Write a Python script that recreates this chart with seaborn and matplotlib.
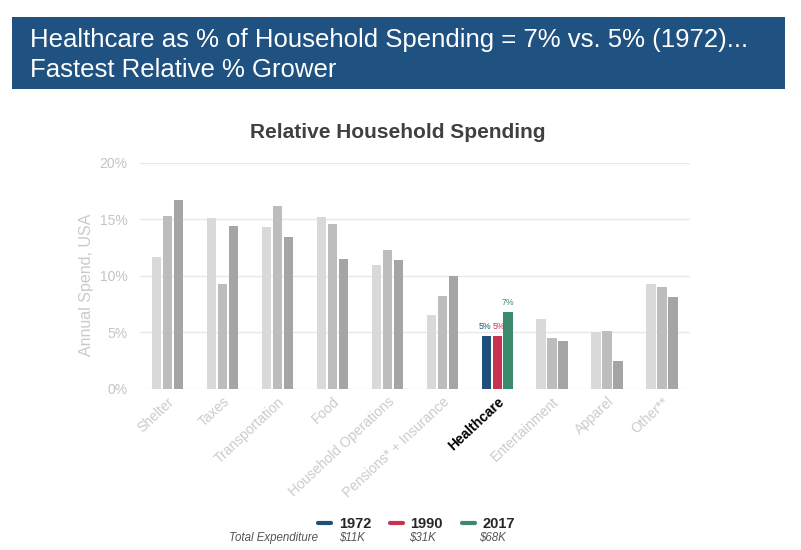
import pandas as pd
import seaborn as sns
import matplotlib.pyplot as plt
from matplotlib.patches import Rectangle
from matplotlib.lines import Line2D

categories = ["Shelter", "Taxes", "Transportation", "Food", "Household Operations",
              "Pensions* + Insurance", "Healthcare", "Entertainment", "Apparel", "Other**"]
years = ["1972", "1990", "2017"]
spend_1972 = [11.7, 15.1, 14.3, 15.2, 11.0, 6.5, 4.7, 6.2, 5.0, 9.3]
spend_1990 = [15.3, 9.3, 16.2, 14.6, 12.3, 8.2, 4.7, 4.5, 5.1, 9.0]
spend_2017 = [16.7, 14.4, 13.4, 11.5, 11.4, 10.0, 6.8, 4.2, 2.5, 8.1]
totals = ["$11K", "$31K", "$68K"]
focus = "Healthcare"

hc_colors = ["#1d4f7a", "#c8324f", "#3b8a6c"]
grays = ["#d9d9d9", "#bdbdbd", "#a5a5a5"]

df = pd.DataFrame({
    "category": categories * 3,
    "year": [y for y in years for _ in categories],
    "value": spend_1972 + spend_1990 + spend_2017,
})

sns.set_style("white")
plt.rcParams["font.family"] = ["Liberation Sans", "DejaVu Sans"]

fig = plt.figure(figsize=(8.01, 5.5), dpi=100)
ax = fig.add_axes([0.175, 0.293, 0.686, 0.411])

sns.barplot(data=df, x="category", y="value", hue="year", order=categories,
            hue_order=years, width=0.6, gap=0.12, palette=grays, legend=False, ax=ax)

# recolor: grays everywhere, colors for healthcare
nudge = [-0.035, 0.035, 0.0]  # keep the two 5% labels from touching
for i, cont in enumerate(ax.containers):
    for j, bar in enumerate(cont):
        if categories[j] == focus:
            bar.set_facecolor(hc_colors[i])
            ax.text(bar.get_x() + bar.get_width() / 2 + nudge[i], bar.get_height() + 0.45,
                    f"{bar.get_height():.0f}%", ha="center", va="bottom",
                    fontsize=6.3, color=hc_colors[i])
        else:
            bar.set_facecolor(grays[i])
        bar.set_edgecolor("none")

ax.set_ylim(0, 20)
ax.set_xlim(-0.5, len(categories) - 0.5)
ax.set_yticks([0, 5, 10, 15, 20])
ax.set_yticklabels([f"{t}%" for t in [0, 5, 10, 15, 20]], color="#c4c4c4", fontsize=10)
ax.yaxis.grid(True, color="#e8e8e8", linewidth=1)
ax.set_axisbelow(True)
for s in ax.spines.values():
    s.set_visible(False)
ax.tick_params(axis="y", length=0, pad=9)
ax.set_xlabel("")
ax.set_ylabel("Annual Spend, USA", color="#cacaca", fontsize=11.5)
ax.yaxis.set_label_coords(-0.084, 0.46)

ax.set_xticks(range(len(categories)))
ax.set_xticklabels(categories, rotation=43, ha="right", rotation_mode="anchor", fontsize=10)
for lab in ax.get_xticklabels():
    if lab.get_text() == focus:
        lab.set_color("black")
        lab.set_fontweight("bold")
    else:
        lab.set_color("#cbcbcb")
ax.tick_params(axis="x", length=0, pad=4)

ax.set_title("Relative Household Spending", fontsize=15, fontweight="bold",
             color="#404040", pad=18, x=0.469)

# banner
fig.patches.append(Rectangle((0.015, 0.838), 0.965, 0.131, transform=fig.transFigure,
                             facecolor="#1f5181", edgecolor="none", zorder=0))
fig.text(0.037, 0.9, "Healthcare as % of Household Spending = 7% vs. 5% (1972)...\nFastest Relative % Grower",
         color="white", fontsize=18.5, va="center", ha="left", linespacing=1.28)

# legend
handles = [Line2D([], [], color=c, linewidth=3) for c in hc_colors]
fig.legend(handles, years, loc="center", bbox_to_anchor=(0.52, 0.047),
           ncol=3, frameon=False, handlelength=0.9, handletextpad=0.5,
           columnspacing=1.3, prop={"weight": "bold", "size": 10.5},
           bbox_transform=fig.transFigure)
fig.text(0.397, 0.021, "Total Expenditure", fontsize=8.3, style="italic",
         color="#555555", ha="right", va="center")
for x, t in zip([0.439, 0.528, 0.615], totals):
    fig.text(x, 0.021, t, fontsize=8.3, style="italic", color="#555555",
             ha="center", va="center")

fig.savefig("out.png", dpi=100, facecolor="white")
